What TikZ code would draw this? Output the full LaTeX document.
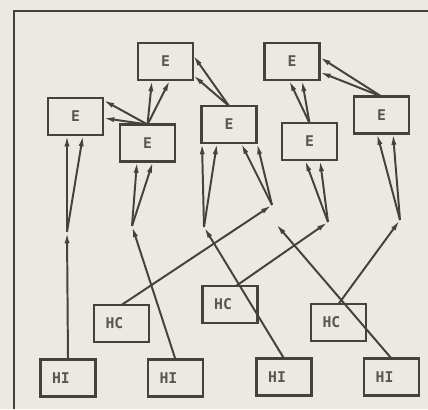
\documentclass[tikz,border=0pt]{standalone}
\usepackage{fontspec}
\setmonofont{DejaVu Sans Mono}
\usetikzlibrary{arrows.meta,calc}
\definecolor{PaperCol}{RGB}{236,233,226}
\definecolor{InkCol}{RGB}{68,66,62}
\definecolor{TextCol}{RGB}{90,87,82}
\tikzset{
  bxframe/.style={line width=2.0pt, draw=InkCol},
  bxbox/.style={draw=InkCol, line width=1.5pt, minimum width=1.375cm, minimum height=0.925cm,
    inner sep=0pt, outer sep=0pt, text=TextCol, font=\fontsize{10.5}{11}\selectfont\ttfamily\bfseries},
  bxlow/.style={bxbox, execute at end node={\hspace*{0.35cm}}},
  bxarrow/.style={-{Latex[length=8pt,width=3.6pt]}, line width=1.4pt, draw=InkCol}
}

\begin{document}
\begin{tikzpicture}[x=0.025cm,y=-0.025cm]
  \useasboundingbox (0,0) rectangle (428,409);
  \fill[PaperCol] (0,0) rectangle (428,409);
  \draw[bxframe] (14,409) -- (14,11) -- (428,11);
  % E boxes
  \node[bxbox] (E1) at (75.5,116.5) {E};
  \node[bxbox] (E2) at (165.5,61.5) {E};
  \node[bxbox] (E3) at (147.5,143) {E};
  \node[bxbox] (E4) at (229,124.5) {E};
  \node[bxbox] (E5) at (292,61.5) {E};
  \node[bxbox] (E6) at (309.5,141.5) {E};
  \node[bxbox] (E7) at (381.5,115) {E};
  % HC and HI boxes
  \node[bxlow] (HC1) at (121.5,323.5) {HC};
  \node[bxlow] (HC2) at (230,304.5) {HC};
  \node[bxlow] (HC3) at (338.5,322.5) {HC};
  \node[bxlow] (HI1) at (68,378) {HI};
  \node[bxlow] (HI2) at (175.5,378) {HI};
  \node[bxlow] (HI3) at (284,377) {HI};
  \node[bxlow] (HI4) at (391.5,377) {HI};
  % junctions
  \coordinate (J1) at (67,232);
  \coordinate (J2) at (132,226);
  \coordinate (J3) at (204,227);
  \coordinate (J4) at (272,205);
  \coordinate (J5) at (328,222);
  \coordinate (J6) at (400,220);
  \coordinate (F1) at (276,224);
  % feeds
  \draw[bxarrow] (HI1.north) -- (J1);
  \draw[bxarrow] (HI2.north) -- (J2);
  \draw[bxarrow] (HI3.north) -- (J3);
  \draw[bxarrow] (HC1.north) -- (J4);
  \draw[bxarrow] ($(HC2.north)+(6,0)$) -- (J5);
  \draw[bxarrow] (HC3.north) -- (J6);
  \draw[bxarrow] (HI4.north) -- (F1);
  % fans into box bottoms
  \foreach \src/\dst/\a/\b in {J1/E1/-8.5/7.5, J2/E3/-10.5/5.5, J3/E4/-27/-12, J4/E4/12/28,
      J5/E6/-4.5/10.5, J6/E7/-4.5/11.5, E3.north/E2/-13.5/4.5, E6.north/E5/-3/10}{%
    \draw[bxarrow] (\src) -- ($(\dst.south)+(\a,0)$);
    \draw[bxarrow] (\src) -- ($(\dst.south)+(\b,0)$);}
  % fans into box sides
  \foreach \src/\dst/\a/\b in {E3.north/E1/-16.5/1.5, E4.north/E2/-6.5/13.5, E7.north/E5/-4.5/10.5}{%
    \draw[bxarrow] (\src) -- ($(\dst.east)+(0,\a)$);
    \draw[bxarrow] (\src) -- ($(\dst.east)+(0,\b)$);}
\end{tikzpicture}
\end{document}
